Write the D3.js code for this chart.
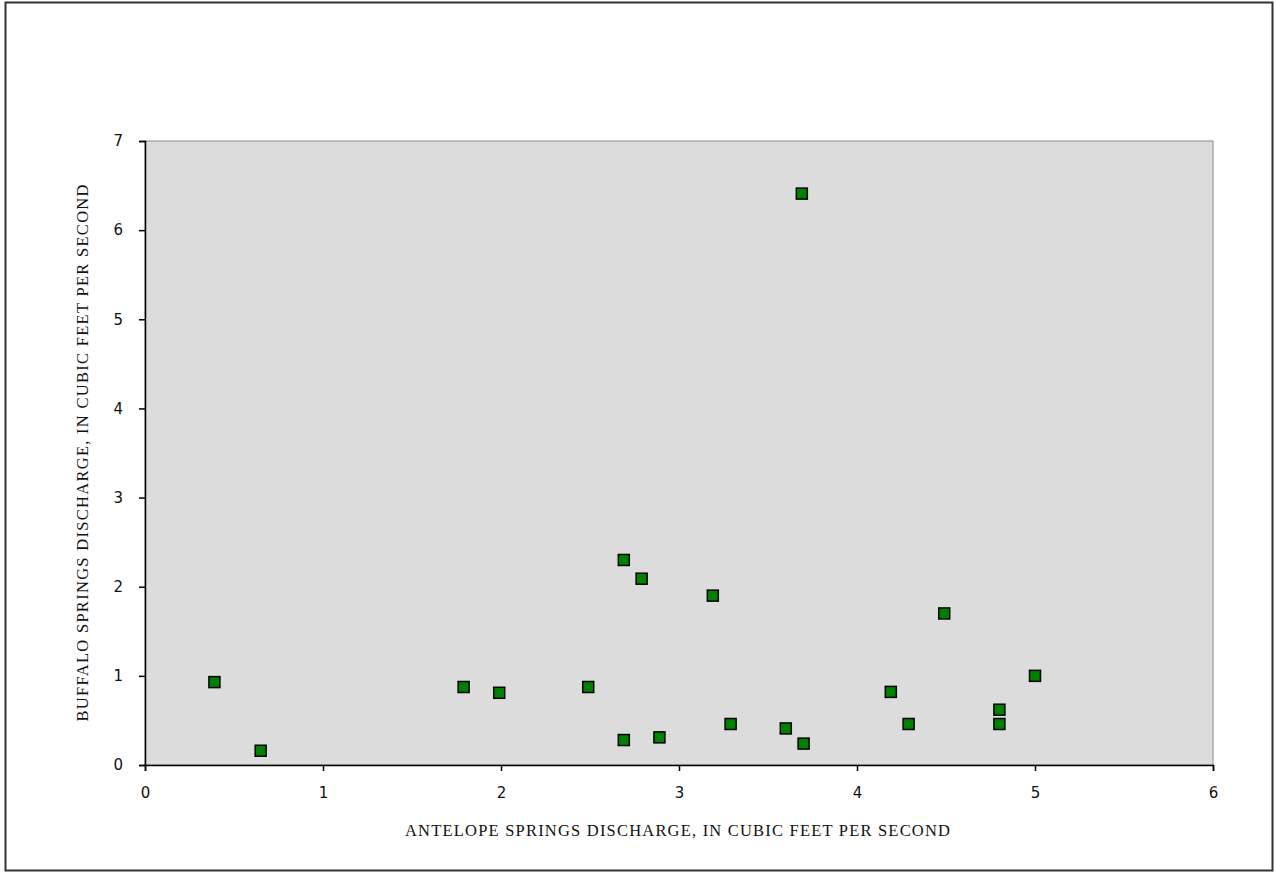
<!DOCTYPE html>
<html><head><meta charset="utf-8">
<script src="https://cdn.jsdelivr.net/npm/d3@7"></script>
<style>body{margin:0;background:#fff}svg{display:block}</style>
</head><body><svg id="c" width="1275" height="873"></svg>
<script>
const antelope = [0.39, 0.65, 1.79, 1.99, 2.49, 2.69, 2.79, 3.19, 2.69, 2.89, 3.29, 3.6, 3.7, 3.69, 4.19, 4.29, 4.49, 4.8, 4.8, 5.0];
const buffalo  = [0.93, 0.16, 0.875, 0.81, 0.875, 2.3, 2.09, 1.9, 0.28, 0.31, 0.46, 0.41, 0.24, 6.41, 0.82, 0.46, 1.7, 0.62, 0.46, 1.0];
const xTicks = [0,1,2,3,4,5,6];
const yTicks = [0,1,2,3,4,5,6,7];
const xTitle = "ANTELOPE SPRINGS DISCHARGE, IN CUBIC FEET PER SECOND";
const yTitle = "BUFFALO SPRINGS DISCHARGE, IN CUBIC FEET PER SECOND";

const svg = d3.select("#c");
const L=145, R=1213, T=141, B=765;
svg.append("rect").attr("x",5.5).attr("y",2.5).attr("width",1267).attr("height",868)
  .attr("fill","#fff").attr("stroke","#333").attr("stroke-width",2);
const x = d3.scaleLinear().domain([0,6]).range([L,R]);
const y = d3.scaleLinear().domain([0,7]).range([B,T]);
svg.append("rect").attr("x",L).attr("y",T).attr("width",R-L).attr("height",B-T)
  .attr("fill","#dcdcdc").attr("stroke","#8c8c8c").attr("stroke-width",1);

const xa = svg.append("g").attr("transform",`translate(0,${B})`)
  .call(d3.axisBottom(x).tickValues(xTicks).tickFormat(d3.format("d")).tickSizeOuter(0).tickSize(6).tickPadding(16));
const ya = svg.append("g").attr("transform",`translate(${L},0)`)
  .call(d3.axisLeft(y).tickValues(yTicks).tickFormat(d3.format("d")).tickSizeOuter(0).tickSize(6).tickPadding(16));
[xa,ya].forEach(a=>{
  a.select(".domain").attr("stroke","#000").attr("stroke-width",1.5);
  a.selectAll(".tick line").attr("stroke","#000").attr("stroke-width",1.5);
  a.selectAll("text").attr("font-family","'DejaVu Sans', Verdana, sans-serif").attr("font-size",15).attr("fill","#111");
});

const s=11;
svg.append("g").selectAll("rect").data(antelope.map((a,i)=>[a,buffalo[i]])).join("rect")
  .attr("x",d=>x(d[0])-s/2).attr("y",d=>y(d[1])-s/2).attr("width",s).attr("height",s)
  .attr("fill","#008000").attr("stroke","#000").attr("stroke-width",1.5);

svg.append("text").attr("x",677.5).attr("y",836).attr("text-anchor","middle")
  .attr("font-family","'Liberation Serif', 'Times New Roman', serif").attr("font-size",16.5)
  .attr("textLength",545).attr("lengthAdjust","spacing").attr("fill","#111").text(xTitle);
svg.append("text").attr("transform",`translate(88,${(T+B)/2}) rotate(-90)`).attr("text-anchor","middle")
  .attr("font-family","'Liberation Serif', 'Times New Roman', serif").attr("font-size",16.5)
  .attr("textLength",537).attr("lengthAdjust","spacing").attr("fill","#111").text(yTitle);
</script></body></html>
